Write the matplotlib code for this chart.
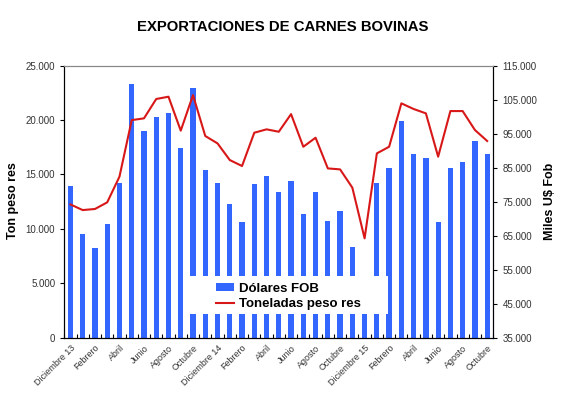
import numpy as np
import matplotlib
matplotlib.use("Agg")
import matplotlib.pyplot as plt
from matplotlib.ticker import FuncFormatter, FixedLocator
from matplotlib.patches import Patch, Rectangle
from matplotlib.lines import Line2D

plt.rcParams['font.family'] = ['Liberation Sans', 'DejaVu Sans']

# Datos mensuales, diciembre 2013 a octubre 2016
etiquetas = ["Diciembre 13", "Febrero", "Abril", "Junio", "Agosto", "Octubre",
             "Diciembre 14", "Febrero", "Abril", "Junio", "Agosto", "Octubre",
             "Diciembre 15", "Febrero", "Abril", "Junio", "Agosto", "Octubre"]

dolares_fob = [79600, 65500, 61400, 68400, 80500, 109600, 95800, 99900, 101100,
               90800, 108400, 84300, 80500, 74300, 69000, 80200, 82600, 77800,
               81100, 71400, 77800, 69300, 72300, 61700, 48000, 80500, 84900,
               98700, 89000, 87800, 69000, 84900, 86700, 92800, 89000]

toneladas = [12250, 11730, 11830, 12440, 14800, 20000, 20160, 21940, 22150,
             19030, 22300, 18540, 17860, 16330, 15780, 18840, 19150, 18930,
             20550, 17550, 18380, 15560, 15470, 13790, 9130, 16940, 17550,
             21540, 21020, 20620, 16640, 20830, 20830, 19090, 18080]

AZUL = '#3366FF'
ROJO = '#D81818'

x = np.arange(len(dolares_fob))

fig = plt.figure(figsize=(5.61, 3.96), dpi=100)
ax = fig.add_axes([64.3 / 561, 1 - 337.7 / 396, 429 / 561, 272 / 396])
ax2 = ax.twinx()

# barras en el eje derecho (miles U$), linea en el izquierdo (toneladas)
ax2.bar(x, dolares_fob, width=0.43, color=AZUL, zorder=2)
ax.plot(x, toneladas, color=ROJO, lw=1.5, zorder=3)

ax.set_zorder(ax2.get_zorder() + 1)
ax.patch.set_visible(False)

ax.set_xlim(-0.5, len(x) - 0.5)
ax.set_ylim(0, 25000)
ax2.set_ylim(35000, 115000)
ax.set_yticks(np.arange(0, 25001, 5000))
ax2.set_yticks(np.arange(35000, 115001, 10000))

fmt = FuncFormatter(lambda v, p: f"{int(v):,}".replace(",", "."))
ax.yaxis.set_major_formatter(fmt)
ax2.yaxis.set_major_formatter(fmt)

ax.set_xticks(x[::2])
ax.set_xticklabels(etiquetas, rotation=45, ha='right', rotation_mode='anchor',
                   fontsize=6.5, color='#333333')
ax.xaxis.set_minor_locator(FixedLocator(np.arange(-0.5, len(x), 1)))
ax.tick_params(axis='x', which='major', length=0, pad=4)
ax.tick_params(axis='x', which='minor', direction='in', length=3, width=0.8)
ax.tick_params(axis='y', labelsize=7, length=3, labelcolor='#333333')
ax2.tick_params(axis='y', labelsize=7, length=3, labelcolor='#333333')

for a in (ax, ax2):
    a.spines['top'].set_color('#888888')
    for s in ('left', 'right', 'bottom'):
        a.spines[s].set_color('black')

fig.text(13 / 561, 1 - 201 / 396, "Ton peso res", rotation=90, ha='center',
         va='center', fontsize=9, fontweight='bold')
fig.text(550 / 561, 1 - 201 / 396, "Miles U$ Fob", rotation=90, ha='center',
         va='center', fontsize=9, fontweight='bold')

fig.text(283 / 561, 1 - 27 / 396, "EXPORTACIONES DE CARNES BOVINAS", ha='center',
         va='center', fontsize=10.7, fontweight='bold')

# caja blanca de la leyenda, tapa las barras
ax.add_patch(Rectangle(((185 - 64.3) / 429, (337.7 - 314) / 272), 203 / 429,
                       38 / 272, transform=ax.transAxes, facecolor='white',
                       edgecolor='none', zorder=4))

handles = [Patch(facecolor=AZUL, edgecolor='none'),
           Line2D([0], [0], color=ROJO, lw=1.5)]
leg = ax.legend(handles, ["Dólares FOB", "Toneladas peso res"],
                loc='center left',
                bbox_to_anchor=((216 - 64.3) / 429, (337.7 - 296.2) / 272),
                frameon=False, prop={'weight': 'bold', 'size': 9.5},
                handlelength=1.36, handleheight=0.55, handletextpad=0.38,
                borderpad=0, borderaxespad=0, labelspacing=0.25)
leg.set_zorder(5)

fig.savefig("out.png", dpi=100)
